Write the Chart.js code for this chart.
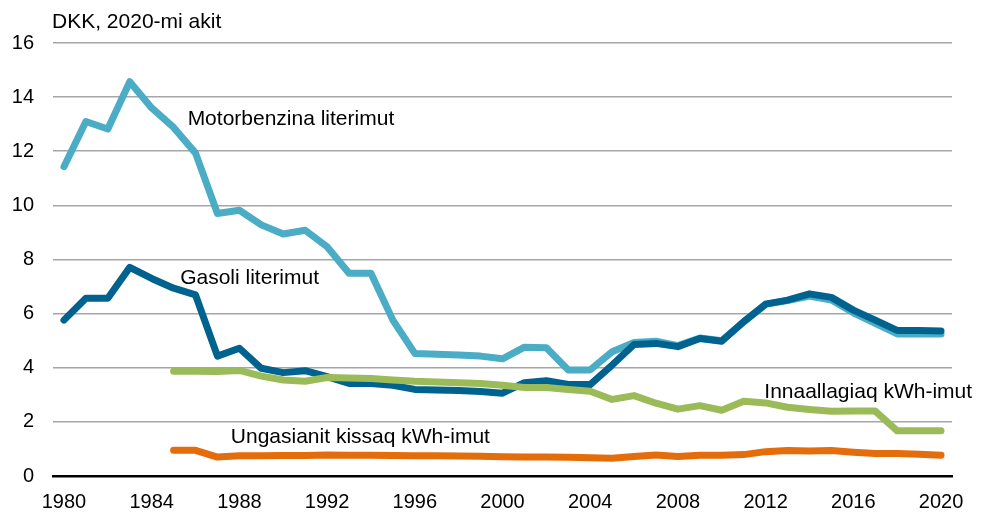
<!DOCTYPE html>
<html>
<head>
<meta charset="utf-8">
<script src="https://cdn.jsdelivr.net/npm/chart.js@4/dist/chart.umd.min.js"></script>
<style>
  html, body { margin: 0; padding: 0; background: #ffffff; }
  #wrap { width: 991px; height: 513px; position: relative; }
</style>
</head>
<body>
<div id="wrap"><canvas id="c" width="991" height="513"></canvas></div>
<script>
// Years 1980–2020
const years = [];
for (let y = 1980; y <= 2020; y++) years.push(String(y));

// Y-axis ticks
const yTicks = [0, 2, 4, 6, 8, 10, 12, 14, 16];

// Prices in DKK, 2020 prices
const motorbenzina = [
  11.43, 13.1, 12.82, 14.57, 13.6, 12.88, 11.93, 9.7, 9.82, 9.28,
  8.94, 9.08, 8.47, 7.49, 7.49, 5.76, 4.53, 4.5, 4.47, 4.43,
  4.33, 4.76, 4.74, 3.92, 3.92, 4.59, 4.93, 4.98, 4.82, 5.1,
  5.0, 5.7, 6.35, 6.48, 6.65, 6.5, 6.03, 5.64, 5.25, 5.25,
  5.25
];
const gasoli = [
  5.76, 6.57, 6.57, 7.71, 7.3, 6.94, 6.69, 4.43, 4.72, 3.98,
  3.82, 3.89, 3.67, 3.42, 3.42, 3.35, 3.2, 3.18, 3.16, 3.12,
  3.06, 3.45, 3.52, 3.38, 3.38, 4.1, 4.86, 4.9, 4.78, 5.08,
  4.98, 5.7, 6.35, 6.5, 6.73, 6.6, 6.13, 5.76, 5.38, 5.38,
  5.36
];
const innaallagiaq = [
  null, null, null, null, null, 3.87, 3.87, 3.86, 3.9, 3.69,
  3.55, 3.5, 3.64, 3.62, 3.6, 3.55, 3.5, 3.47, 3.45, 3.42,
  3.35, 3.27, 3.27, 3.2, 3.13, 2.83, 2.97, 2.69, 2.47, 2.6,
  2.43, 2.76, 2.7, 2.54, 2.46, 2.39, 2.4, 2.4, 1.67, 1.67,
  1.67
];
const ungasianit = [
  null, null, null, null, null, 0.95, 0.95, 0.7, 0.75, 0.75,
  0.76, 0.76, 0.78, 0.77, 0.77, 0.76, 0.75, 0.75, 0.74, 0.73,
  0.71, 0.7, 0.7, 0.69, 0.67, 0.66, 0.72, 0.78, 0.72, 0.77,
  0.77, 0.79, 0.9, 0.94, 0.92, 0.94, 0.88, 0.83, 0.83, 0.8,
  0.77
];

// Series names written next to the lines, anchored in data units (year index, value)
const seriesLabels = [
  { text: 'Motorbenzina literimut', x: 5.64, y: 12.97 },
  { text: 'Gasoli literimut', x: 5.30, y: 7.08 },
  { text: 'Innaallagiaq kWh-imut', x: 31.94, y: 2.87 },
  { text: 'Ungasianit kissaq kWh-imut', x: 7.61, y: 1.21 }
];
const unitTitle = 'DKK, 2020-mi akit';

const FONT = '"Liberation Sans", Arial, Helvetica, sans-serif';

const textPlugin = {
  id: 'inlineText',
  afterDatasetsDraw(chart) {
    const ctx = chart.ctx;
    const xs = chart.scales.x, ys = chart.scales.y;
    ctx.save();
    ctx.fillStyle = '#000000';
    ctx.font = '21px ' + FONT;
    ctx.textAlign = 'left';
    ctx.textBaseline = 'alphabetic';
    seriesLabels.forEach(l => {
      ctx.fillText(l.text, xs.getPixelForValue(l.x), ys.getPixelForValue(l.y));
    });
    ctx.fillText(unitTitle, chart.chartArea.left - 1, chart.chartArea.top - 15);
    ctx.restore();
  }
};

const mkLine = (data, color, order) => ({
  data,
  borderColor: color,
  backgroundColor: color,
  borderWidth: 7,
  pointRadius: 0,
  tension: 0,
  borderCapStyle: 'round',
  borderJoinStyle: 'round',
  spanGaps: false,
  order
});

new Chart(document.getElementById('c'), {
  type: 'line',
  data: {
    labels: years,
    datasets: [
      mkLine(motorbenzina, '#4BACC6', 3),
      mkLine(gasoli, '#00638F', 2),
      mkLine(innaallagiaq, '#9BBB59', 1),
      mkLine(ungasianit, '#E46C0A', 0)
    ]
  },
  options: {
    responsive: false,
    animation: false,
    devicePixelRatio: 1,
    layout: { padding: { top: 43, right: 39, left: 0, bottom: 0 } },
    plugins: {
      legend: { display: false },
      tooltip: { enabled: false },
      title: { display: false }
    },
    scales: {
      x: {
        type: 'category',
        offset: true,
        grid: { display: false, drawTicks: false },
        border: { display: true, color: '#000000', width: 2.5 },
        ticks: {
          autoSkip: false,
          maxRotation: 0,
          minRotation: 0,
          padding: 14,
          color: '#000000',
          font: { family: FONT, size: 20 },
          callback: function (v, i) {
            const lab = years[i];
            return (Number(lab) % 4 === 0) ? lab : '';
          }
        },
        afterFit(scale) { scale.height = 37; }
      },
      y: {
        min: 0,
        max: 16,
        afterBuildTicks(scale) { scale.ticks = yTicks.map(v => ({ value: v })); },
        grid: {
          color: (c) => c.tick && c.tick.value === 0 ? 'rgba(0,0,0,0)' : '#A6A6A6',
          lineWidth: 1.6,
          drawTicks: false
        },
        border: { display: false },
        ticks: {
          padding: 19,
          color: '#000000',
          font: { family: FONT, size: 20 }
        },
        afterFit(scale) { scale.width = 53; }
      }
    }
  },
  plugins: [textPlugin]
});
</script>
</body>
</html>
